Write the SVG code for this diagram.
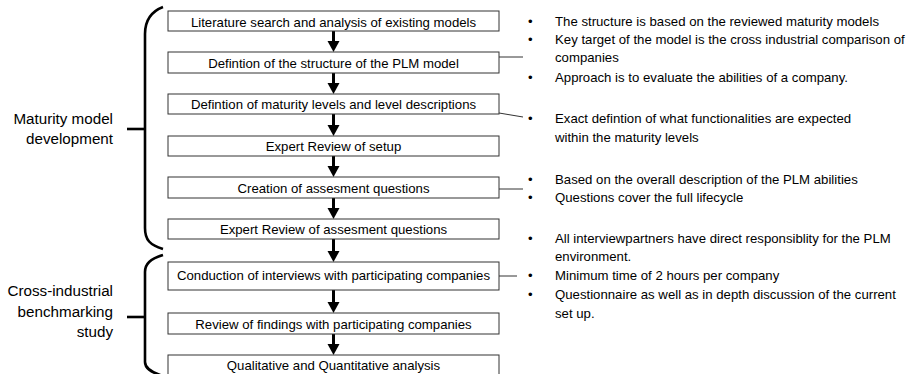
<svg xmlns="http://www.w3.org/2000/svg" width="917" height="374" viewBox="0 0 917 374">
<defs>
<style>
.box{fill:#fff;stroke:#333;stroke-width:1}
.bt{font-family:"Liberation Sans",Arial,sans-serif;font-size:13.2px;fill:#000;text-anchor:middle}
.lab{font-family:"Liberation Sans",Arial,sans-serif;font-size:15.2px;fill:#000;text-anchor:end}
.bul{font-family:"Liberation Sans",Arial,sans-serif;font-size:13.2px;fill:#000}
.arr{stroke:#000;stroke-width:3;fill:none}
.head{fill:#000}
.brace{stroke:#000;stroke-width:2.6;fill:none}
.thin{stroke:#333;stroke-width:1;fill:none}
</style>
</defs>
<rect width="917" height="374" fill="#fff"/>

<g id="brackets">
<path class="brace" d="M163,7 C150,12 145,22 145,34 L145,228 C145,240 150,245 163,249"/>
<path class="brace" d="M127,129 L145,129" stroke-width="3"/>
<path class="brace" d="M163,255 C150,259 145,264 145,272 L145,362 C145,368 150,372 163,376"/>
<path class="brace" d="M127,317 L145,317" stroke-width="3"/>
</g>

<g id="label-maturity">
<text class="lab" x="113" y="124">Maturity model</text>
<text class="lab" x="113" y="144">development</text>
</g>
<g id="label-benchmark">
<text class="lab" x="113" y="296">Cross-industrial</text>
<text class="lab" x="113" y="317">benchmarking</text>
<text class="lab" x="113" y="337">study</text>
</g>

<g id="connectors">
<path class="arr" d="M333.5,31 V42"/><path class="head" d="M327.5,41 H339.5 L333.5,52 Z"/>
<path class="arr" d="M333.5,73 V84"/><path class="head" d="M327.5,83 H339.5 L333.5,94 Z"/>
<path class="arr" d="M333.5,114 V126"/><path class="head" d="M327.5,125 H339.5 L333.5,136 Z"/>
<path class="arr" d="M333.5,156 V167"/><path class="head" d="M327.5,166 H339.5 L333.5,177 Z"/>
<path class="arr" d="M333.5,198 V209"/><path class="head" d="M327.5,208 H339.5 L333.5,219 Z"/>
<path class="arr" d="M333.5,239 V252"/><path class="head" d="M327.5,251 H339.5 L333.5,262 Z"/>
<path class="arr" d="M333.5,290 V303"/><path class="head" d="M327.5,302 H339.5 L333.5,313 Z"/>
<path class="arr" d="M333.5,327 V345"/><path class="head" d="M327.5,344 H339.5 L333.5,355 Z"/>
<path class="thin" d="M499,57 L523,57"/>
<path class="thin" d="M499,113 L523,117"/>
<path class="thin" d="M499,189 L523,189"/>
<path class="thin" d="M499,276 L517,276"/>
</g>

<g id="n1"><rect class="box" x="168" y="11" width="331" height="20"/><text class="bt" x="333.5" y="26.5">Literature search and analysis of existing models</text></g>
<g id="n2"><rect class="box" x="168" y="52" width="331" height="21"/><text class="bt" x="333.5" y="67.5">Defintion of the structure of the PLM model</text></g>
<g id="n3"><rect class="box" x="168" y="94" width="331" height="20"/><text class="bt" x="333.5" y="109">Defintion of maturity levels and level descriptions</text></g>
<g id="n4"><rect class="box" x="168" y="136" width="331" height="20"/><text class="bt" x="333.5" y="151">Expert Review of setup</text></g>
<g id="n5"><rect class="box" x="168" y="177" width="331" height="21"/><text class="bt" x="333.5" y="192.5">Creation of assesment questions</text></g>
<g id="n6"><rect class="box" x="168" y="219" width="331" height="20"/><text class="bt" x="333.5" y="234">Expert Review of assesment questions</text></g>
<g id="n7"><rect class="box" x="168" y="262" width="331" height="28"/><text class="bt" x="333.5" y="280">Conduction of interviews with participating companies</text></g>
<g id="n8"><rect class="box" x="168" y="313" width="331" height="21"/><text class="bt" x="333.5" y="328.5">Review of findings with participating companies</text></g>
<g id="n9"><rect class="box" x="168" y="355" width="331" height="21"/><text class="bt" x="333.5" y="370">Qualitative and Quantitative analysis</text></g>

<g id="notes">
<text class="bul" x="528" y="26">•</text><text class="bul" x="555" y="26">The structure is based on the reviewed maturity models</text>
<text class="bul" x="528" y="44">•</text><text class="bul" x="555" y="44">Key target of the model is the cross industrial comparison of</text>
<text class="bul" x="555" y="62">companies</text>
<text class="bul" x="528" y="82">•</text><text class="bul" x="555" y="82">Approach is to evaluate the abilities of a company.</text>
<text class="bul" x="528" y="123">•</text><text class="bul" x="555" y="123">Exact defintion of what functionalities are expected</text>
<text class="bul" x="555" y="142">within the maturity levels</text>
<text class="bul" x="528" y="184">•</text><text class="bul" x="555" y="184">Based on the overall description of the PLM abilities</text>
<text class="bul" x="528" y="202">•</text><text class="bul" x="555" y="202">Questions cover the full lifecycle</text>
<text class="bul" x="528" y="243">•</text><text class="bul" x="555" y="243">All interviewpartners have direct responsiblity for the PLM</text>
<text class="bul" x="555" y="261">environment.</text>
<text class="bul" x="528" y="280">•</text><text class="bul" x="555" y="280">Minimum time of 2 hours per company</text>
<text class="bul" x="528" y="299">•</text><text class="bul" x="555" y="299">Questionnaire as well as in depth discussion of the current</text>
<text class="bul" x="555" y="318">set up.</text>
</g>
</svg>
